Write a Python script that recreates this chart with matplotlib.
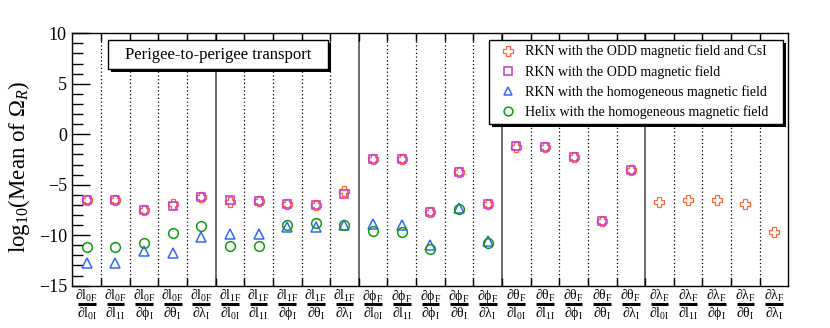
import numpy as np
import matplotlib
matplotlib.use('Agg')
import matplotlib.pyplot as plt
from matplotlib.patches import Rectangle
import matplotlib.patheffects as pe

plt.rcParams['font.family'] = ['Liberation Serif', 'DejaVu Serif']
plt.rcParams['mathtext.fontset'] = 'custom'
plt.rcParams['mathtext.rm'] = 'Liberation Serif'
plt.rcParams['mathtext.it'] = 'Liberation Serif:italic'
plt.rcParams['mathtext.bf'] = 'Liberation Serif:bold'

# pay / payda degiskenleri
numerators = [r'\mathrm{l}_{\mathrm{0F}}', r'\mathrm{l}_{\mathrm{1F}}', r'\mathrm{\phi}_{\mathrm{F}}',
              r'\mathrm{\theta}_{\mathrm{F}}', r'\mathrm{\lambda}_{\mathrm{F}}']
denominators = [r'\mathrm{l}_{\mathrm{0I}}', r'\mathrm{l}_{\mathrm{1I}}', r'\mathrm{\phi}_{\mathrm{I}}',
                r'\mathrm{\theta}_{\mathrm{I}}', r'\mathrm{\lambda}_{\mathrm{I}}']

# log10(mean of Omega_R) degerleri
odd_csi = [-6.5, -6.5, -7.5, -6.9, -6.2, -6.7, -6.6, -6.9, -7.0, -5.6,
           -2.5, -2.5, -7.7, -3.7, -6.9, -1.3, -1.3, -2.3, -8.6, -3.5,
           -6.7, -6.5, -6.5, -6.9, -9.7]
odd = [-6.5, -6.5, -7.5, -7.1, -6.2, -6.5, -6.6, -6.9, -7.0, -5.9,
       -2.5, -2.5, -7.7, -3.7, -6.9, -1.2, -1.3, -2.3, -8.6, -3.5]
rkn_homo = [-12.8, -12.8, -11.6, -11.8, -10.2, -9.9, -9.9, -9.2, -9.2, -9.0,
            -8.9, -8.95, -11.0, -7.3, -10.6]
helix_homo = [-11.2, -11.2, -10.8, -9.8, -9.1, -11.1, -11.1, -9.0, -8.75, -8.95,
              -9.6, -9.7, -11.4, -7.4, -10.8]

fig = plt.figure(figsize=(8.3, 3.28), dpi=100)
ax = fig.add_axes([0.0873, 0.129, 0.8625, 0.7695])

n = len(numerators) * len(denominators)
ax.set_xlim(-0.5, n - 0.5)
ax.set_ylim(-15, 10)

# ayirici cizgiler
for i in range(n - 1):
    if (i + 1) % 5 == 0:
        ax.axvline(i + 0.5, color='#444444', lw=1.1, zorder=1)
    else:
        ax.axvline(i + 0.5, color='k', lw=0.9, ls=(0, (1, 2)), zorder=1)

ms = 6
ax.plot(np.arange(len(odd_csi)), odd_csi, ls='none', marker='P', ms=7.5, mfc='none',
        mec='#FF6633', mew=0.9, label='RKN with the ODD magnetic field and CsI', zorder=3)
ax.plot(np.arange(len(odd)), odd, ls='none', marker='s', ms=ms, mfc='none',
        mec='#CC33CC', mew=1.1, label='RKN with the ODD magnetic field', zorder=4)
ax.plot(np.arange(len(rkn_homo)), rkn_homo, ls='none', marker='^', ms=ms + 1, mfc='none',
        mec='#3366FF', mew=1.1, label='RKN with the homogeneous magnetic field', zorder=5)
ax.plot(np.arange(len(helix_homo)), helix_homo, ls='none', marker='o', ms=ms + 1, mfc='none',
        mec='#119911', mew=1.1, label='Helix with the homogeneous magnetic field', zorder=6)

# eksenler
for s in ax.spines.values():
    s.set_linewidth(1.0)
ax.set_yticks(np.arange(-15, 11, 5))
ax.set_yticklabels(['\u221215', '\u221210', '\u22125', '0', '5', '10'])
ax.set_yticks(np.arange(-15, 11, 1), minor=True)
ax.tick_params(axis='y', which='major', direction='in', length=13, width=1.0, labelsize=13, pad=4)
ax.tick_params(axis='y', which='minor', direction='in', length=8, width=1.0)
ax.set_xticks(np.arange(n - 1) + 0.5)
ax.tick_params(axis='x', which='major', direction='in', length=6, width=1.0,
               top=True, bottom=True, labelbottom=False)
ax.tick_params(axis='x', which='minor', bottom=False, top=False)

ax.set_ylabel(r'log$_{10}$(Mean of $\mathrm{\Omega}_{R}$)', fontsize=16.5)
ax.yaxis.set_label_coords(-0.057, 0.47)

# kesir etiketleri
xt = ax.get_xaxis_transform()
for a, num in enumerate(numerators):
    for b, den in enumerate(denominators):
        k = a * 5 + b
        ax.text(k, -0.042, r'$\mathrm{\partial}' + num + '$', transform=xt, ha='center', va='center',
                fontsize=10, clip_on=False)
        ax.text(k, -0.11, r'$\mathrm{\partial}' + den + '$', transform=xt, ha='center', va='center',
                fontsize=10, clip_on=False)
        ax.plot([k - 0.31, k + 0.31], [-0.0745, -0.0745], transform=xt, color='k', lw=2.2,
                solid_capstyle='butt', clip_on=False)

# baslik kutusu
shadow = pe.SimplePatchShadow(offset=(2.2, -2.2), shadow_rgbFace='k', alpha=1.0)
box = Rectangle((0.05, 0.857), 0.307, 0.116, transform=ax.transAxes, fc='white', ec='k',
                lw=1.0, zorder=7)
box.set_path_effects([shadow, pe.Normal()])
ax.add_patch(box)
ax.text(0.2035, 0.913, 'Perigee-to-perigee transport', transform=ax.transAxes,
        ha='center', va='center', fontsize=12, zorder=8)

leg = ax.legend(loc='upper left', bbox_to_anchor=(0.582, 0.0, 0.4107, 0.973), mode='expand',
                borderaxespad=0, fontsize=10, frameon=True, fancybox=False, edgecolor='k',
                framealpha=1, handlelength=2.1, handletextpad=0.12, labelspacing=0.46,
                borderpad=0.33, numpoints=1, markerscale=0.9)
leg.get_frame().set_linewidth(1.0)
leg.get_frame().set_path_effects([shadow, pe.Normal()])
leg.set_zorder(9)

plt.savefig('out.png', dpi=100)
